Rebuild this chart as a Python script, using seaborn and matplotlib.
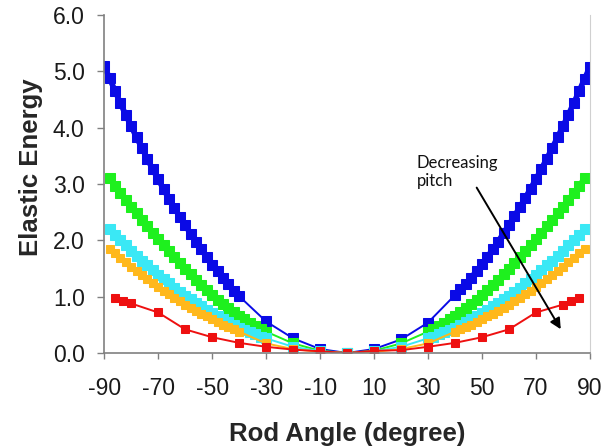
import numpy as np
import pandas as pd
import matplotlib
matplotlib.use("Agg")
import matplotlib.pyplot as plt
import seaborn as sns

# rod angle grids (degree)
blue_angle = np.r_[np.arange(-90, -39, 2), [-30, -20, -10, 0, 10, 20, 30], np.arange(40, 91, 2)]
green_angle = np.r_[np.arange(-88, -29, 2), [-20, -10, 0, 10, 20], np.arange(30, 89, 2)]
cyan_angle = np.r_[np.arange(-88, -29, 2), [-20, -10, 0, 10, 20], np.arange(30, 89, 2)]
orange_angle = np.r_[np.arange(-88, -39, 2), [-30, -20, -10, 0, 10, 20, 30], np.arange(40, 89, 2)]
red_angle = [-86, -83, -80, -70, -60, -50, -40, -30, -20, -10, 0,
             10, 20, 30, 40, 50, 60, 70, 80, 83, 86]

# elastic energy
blue_energy = [5.10, 4.88, 4.66, 4.44, 4.23, 4.03, 3.83, 3.64, 3.45, 3.26, 3.09, 2.91, 2.74,
               2.58, 2.42, 2.27, 2.12, 1.97, 1.84, 1.70, 1.57, 1.45, 1.33, 1.22, 1.11, 1.01,
               0.56, 0.26, 0.07, 0.00, 0.07, 0.24, 0.54,
               1.03, 1.13, 1.23, 1.34, 1.46, 1.58, 1.71, 1.84, 1.98, 2.13, 2.28, 2.43, 2.59,
               2.75, 2.92, 3.09, 3.27, 3.45, 3.64, 3.83, 4.03, 4.23, 4.44, 4.65, 4.87, 5.08]
green_energy = [3.10, 2.97, 2.84, 2.72, 2.60, 2.48, 2.36, 2.25, 2.14, 2.03, 1.92, 1.81, 1.70,
                1.60, 1.50, 1.40, 1.30, 1.21, 1.12, 1.03, 0.95, 0.87, 0.80, 0.73, 0.66, 0.60,
                0.54, 0.48, 0.43, 0.38,
                0.17, 0.04, 0.00, 0.04, 0.17,
                0.38, 0.43, 0.48, 0.54, 0.60, 0.66, 0.73, 0.80, 0.87, 0.95, 1.03, 1.12, 1.21,
                1.30, 1.40, 1.50, 1.60, 1.70, 1.81, 1.92, 2.03, 2.14, 2.25, 2.36, 2.48, 2.60,
                2.72, 2.84, 2.97, 3.10]
cyan_energy = [2.20, 2.10, 2.00, 1.91, 1.82, 1.73, 1.64, 1.56, 1.47, 1.39, 1.31, 1.24, 1.16,
               1.09, 1.02, 0.96, 0.89, 0.83, 0.77, 0.71, 0.65, 0.60, 0.55, 0.50, 0.45, 0.41,
               0.37, 0.33, 0.29, 0.26,
               0.11, 0.03, 0.00, 0.03, 0.11,
               0.26, 0.29, 0.33, 0.37, 0.41, 0.45, 0.50, 0.55, 0.60, 0.65, 0.71, 0.77, 0.83,
               0.89, 0.96, 1.02, 1.09, 1.16, 1.24, 1.31, 1.39, 1.47, 1.56, 1.64, 1.73, 1.82,
               1.91, 2.00, 2.10, 2.20]
orange_energy = [1.85, 1.77, 1.69, 1.61, 1.53, 1.45, 1.38, 1.31, 1.24, 1.17, 1.10, 1.04, 0.98,
                 0.92, 0.86, 0.80, 0.75, 0.70, 0.65, 0.60, 0.55, 0.50, 0.46, 0.42, 0.38,
                 0.17, 0.07, 0.02, 0.00, 0.02, 0.07, 0.17,
                 0.38, 0.42, 0.46, 0.50, 0.55, 0.60, 0.65, 0.70, 0.75, 0.80, 0.86, 0.92, 0.98,
                 1.04, 1.10, 1.17, 1.24, 1.31, 1.38, 1.45, 1.53, 1.61, 1.69, 1.77, 1.85]
red_energy = [0.97, 0.92, 0.88, 0.72, 0.42, 0.28, 0.18, 0.11, 0.06, 0.03, 0.00,
              0.04, 0.05, 0.11, 0.18, 0.28, 0.42, 0.72, 0.86, 0.92, 0.97]

x_ticks = [-90, -70, -50, -30, -10, 10, 30, 50, 70, 90]
y_ticks = [0.0, 1.0, 2.0, 3.0, 4.0, 5.0, 6.0]

# (angles, energies, colour, marker size, |angle| where the dense band starts)
series = [
    (blue_angle, blue_energy, "#0a0ae6", 6.5, 40),
    (green_angle, green_energy, "#1ef01e", 6.5, 30),
    (cyan_angle, cyan_energy, "#3ae8f5", 6.5, 30),
    (orange_angle, orange_energy, "#ffb81c", 5.5, 40),
    (red_angle, red_energy, "#ee1010", 5.5, None),
]

sns.set_style("white")
plt.rcParams["font.family"] = ["Liberation Sans", "DejaVu Sans"]
plt.rcParams["axes.unicode_minus"] = False

fig = plt.figure(figsize=(6.02, 4.47), dpi=100)
ax = fig.add_axes([0.173, 0.2103, 0.807, 0.7557])

for angle, energy, color, ms, dense in series:
    df = pd.DataFrame({"angle": angle, "energy": energy})
    sns.lineplot(data=df, x="angle", y="energy", ax=ax, color=color, marker="s",
                 markersize=ms, markeredgecolor=color, linewidth=1.4, sort=False)
    if dense is not None:
        # the overlapping markers form a solid band in the original
        for part in (df[df.angle <= -dense], df[df.angle >= dense]):
            sns.lineplot(data=part, x="angle", y="energy", ax=ax, color=color,
                         linewidth=ms * 0.62, sort=False, solid_capstyle="butt")

ax.set_xlim(-90, 90)
ax.set_ylim(0, 6)
ax.set_xticks(x_ticks)
ax.set_yticks(y_ticks)
ax.set_yticklabels([f"{v:.1f}" for v in y_ticks])
ax.tick_params(axis="both", labelsize=16.5, colors="#1a1a1a")
ax.tick_params(axis="x", direction="out", length=4, width=1, color="#808080", pad=13, bottom=True)
ax.tick_params(axis="y", direction="out", length=5, width=1, color="#808080", pad=9, left=True)

for side in ["left", "bottom"]:
    ax.spines[side].set_color("#808080")
    ax.spines[side].set_linewidth(1.2)
ax.spines["right"].set_color("#d0d0d0")
ax.spines["top"].set_visible(False)

ax.set_xlabel("Rod Angle (degree)", fontsize=18.5, fontweight="bold", labelpad=16)
ax.set_ylabel("Elastic Energy", fontsize=18.5, fontweight="bold")
ax.yaxis.set_label_coords(-0.1255, 0.55)

ax.annotate("", xy=(79.7, 0.38), xytext=(47.5, 2.98),
            arrowprops=dict(arrowstyle="-|>", color="black", lw=1.4, mutation_scale=16))
ax.text(25.8, 3.52, "Decreasing\npitch", fontsize=12, family="Lato", color="#111111",
        va="top", ha="left", linespacing=1.2)

fig.savefig("out.png", dpi=100)
